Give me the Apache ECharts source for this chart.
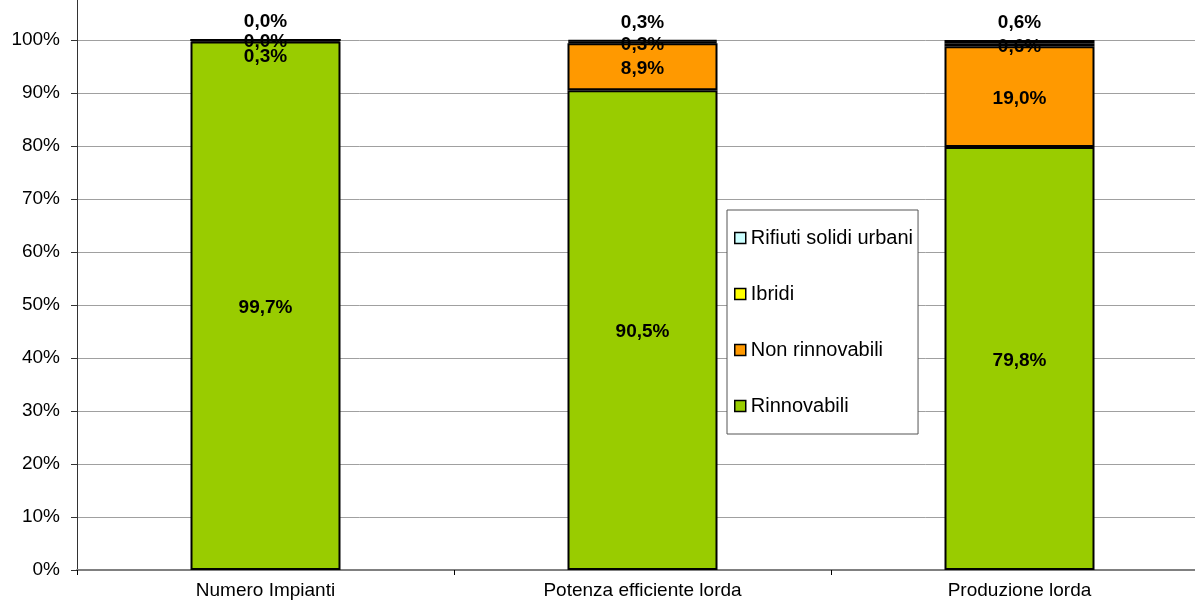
<!DOCTYPE html>
<html>
<head>
<meta charset="utf-8">
<script src="https://cdn.jsdelivr.net/npm/echarts@6/dist/echarts.min.js"></script>
<style>html,body{margin:0;padding:0;background:#fff;overflow:hidden;width:1195px;height:602px;}#c{width:1208px;height:602px;}</style>
</head>
<body>
<div id="c"></div>
<script>
var categories = ['Numero Impianti', 'Potenza efficiente lorda', 'Produzione lorda'];
var rinnovabili = [99.7, 90.5, 79.8];
var nonRinnovabili = [0.3, 8.9, 19.0];
var ibridi = [0.0, 0.3, 0.6];
var rifiuti = [0.0, 0.3, 0.6];
var yTicks = [0, 10, 20, 30, 40, 50, 60, 70, 80, 90, 100];

var font = '"Liberation Sans", Arial, sans-serif';
function fmt(p) { return p.value.toFixed(1).replace('.', ',') + '%'; }
function lbl(pos, dist, off) {
  return { show: true, position: pos, distance: dist || 5, formatter: fmt, offset: off || [0, 0],
    color: '#000', fontWeight: 'bold', fontSize: 19, fontFamily: font };
}
function bar(name, data, color, label) {
  return { name: name, type: 'bar', stack: 'total', barWidth: 150, data: data,
    itemStyle: { color: color, borderColor: '#000', borderWidth: 2 },
    label: label, emphasis: { disabled: true } };
}
var nonRinnData = nonRinnovabili.map(function (v, i) {
  return i === 0 ? { value: v, label: { offset: [0, 16] } } : v;
});

var chart = echarts.init(document.getElementById('c'), null, { renderer: 'canvas' });
chart.setOption({
  animation: false,
  backgroundColor: '#fff',
  grid: { left: 77, top: 40, right: 0, height: 530, containLabel: false },
  legend: {
    orient: 'vertical', left: 727, top: 210,
    data: ['Rifiuti solidi urbani', 'Ibridi', 'Non rinnovabili', 'Rinnovabili'],
    icon: 'rect', itemWidth: 11, itemHeight: 11, itemGap: 36,
    padding: [18, 5, 18, 7],
    borderColor: '#555', borderWidth: 1, backgroundColor: '#fff',
    itemStyle: { borderWidth: 1.5, borderColor: '#000' },
    textStyle: { color: '#000', fontSize: 20, fontFamily: font },
    selectedMode: false
  },
  xAxis: {
    type: 'category', data: categories,
    axisLine: { lineStyle: { color: '#808080', width: 2 } },
    axisTick: { show: true, alignWithLabel: false, length: 5, lineStyle: { color: '#000' } },
    axisLabel: { color: '#000', fontSize: 19, fontFamily: font, margin: 11 },
    splitLine: { show: false }
  },
  yAxis: {
    type: 'value', min: yTicks[0], max: yTicks[yTicks.length - 1], interval: 10,
    axisLine: { show: true, lineStyle: { color: '#333', width: 1 } },
    axisTick: { show: true, length: 6, lineStyle: { color: '#333' } },
    axisLabel: { color: '#000', fontSize: 19, fontFamily: font, margin: 17,
      formatter: function (v) { return v + '%'; } },
    splitLine: { show: true, lineStyle: { color: '#a0a0a0', width: 1 } }
  },
  graphic: [{ type: 'line', shape: { x1: 77.5, y1: 0, x2: 77.5, y2: 40 },
    style: { stroke: '#333', lineWidth: 1 }, silent: true }],
  series: [
    bar('Rinnovabili', rinnovabili, '#99cc00', lbl('inside', 5, [0, 2])),
    bar('Non rinnovabili', nonRinnData, '#ff9900', lbl('inside', 5, [0, 2])),
    bar('Ibridi', ibridi, '#ffff00', lbl('inside', 5, [0, 2])),
    bar('Rifiuti solidi urbani', rifiuti, '#ccffff', lbl('top', 8))
  ]
});
</script>
</body>
</html>
